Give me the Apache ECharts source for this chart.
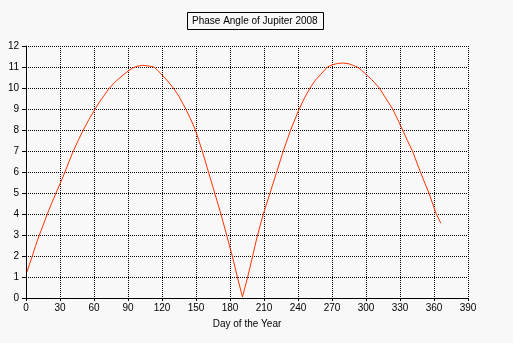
<!DOCTYPE html>
<html>
<head>
<meta charset="utf-8">
<style>
  html, body { margin: 0; padding: 0; background: #f8f8f8; }
  #chart { width: 513px; height: 343px; }
</style>
<script src="https://cdn.jsdelivr.net/npm/echarts@6/dist/echarts.min.js"></script>
</head>
<body>
<div id="chart"></div>
<script>
// Phase angle of Jupiter through 2008 (degrees), sampled by day of year
const days = [1, 3, 5.6, 8.5, 11.8, 15, 18.8, 22.5, 26.5, 30.5, 34.4, 38, 41.8, 46, 50.6, 55.5, 61, 65, 69, 73.5,
  78, 82, 86, 90, 94, 98, 103, 108, 113, 116, 120, 125, 130, 135, 141, 145, 149.5, 155.5, 161, 166.5,
  172, 177, 182, 186.5, 191, 195.6, 200, 204.3, 209.4, 215.3, 221.2, 227, 233.5, 241, 246, 250.6,
  255, 260, 266, 270, 275, 280, 285, 289, 292.3, 296, 300, 305, 311.8, 317, 323.5, 328, 332.3, 336.5, 341,
  348, 355.5, 362, 366];
const phase = [1.25, 1.6, 2, 2.5, 3, 3.45, 4, 4.5, 5, 5.5, 6, 6.5, 7, 7.5, 8, 8.5, 9, 9.35, 9.65, 10,
  10.25, 10.45, 10.63, 10.8, 10.95, 11.04, 11.08, 11.05, 11, 10.85, 10.62, 10.33, 10, 9.6, 9, 8.55, 8, 7, 6, 5,
  4, 3, 2, 1, 0.05, 1, 2, 3, 4, 5, 6, 7, 8, 9, 9.55, 10,
  10.35, 10.65, 11, 11.1, 11.17, 11.19, 11.15, 11.07, 11, 10.85, 10.65, 10.4, 10, 9.55, 9, 8.5, 8, 7.5, 7,
  6, 5, 4, 3.56];

const titleText = 'Phase Angle of Jupiter 2008';
const xAxisName = 'Day of the Year';
const xRange = [0, 390, 30];
const yRange = [0, 12, 1];

const font = '"Liberation Sans", Arial, sans-serif';

const chart = echarts.init(document.getElementById('chart'), null, { renderer: 'canvas' });

chart.setOption({
  backgroundColor: '#f8f8f8',
  animation: false,
  title: {
    text: titleText,
    left: 187,
    top: 12,
    borderColor: '#000',
    borderWidth: 1,
    padding: [4, 6, 3, 5],
    textStyle: { fontFamily: font, fontSize: 10, fontWeight: 'normal', color: '#000', lineHeight: 11 }
  },
  grid: { left: 26, right: 45, top: 46, bottom: 45 },
  xAxis: {
    type: 'value',
    min: xRange[0], max: xRange[1], interval: xRange[2],
    name: xAxisName,
    nameLocation: 'middle',
    nameGap: 21,
    nameTextStyle: { fontFamily: font, fontSize: 10, color: '#000' },
    axisLine: { show: true, onZero: false, lineStyle: { color: '#000', width: 1 } },
    axisTick: { show: true, length: 3, lineStyle: { color: '#000' } },
    axisLabel: { fontFamily: font, fontSize: 10, color: '#000', margin: 5 },
    splitLine: { show: true, lineStyle: { color: '#000', width: 1, type: [1, 1] } }
  },
  yAxis: {
    type: 'value',
    min: yRange[0], max: yRange[1], interval: yRange[2],
    axisLine: { show: true, onZero: false, lineStyle: { color: '#000', width: 1 } },
    axisTick: { show: true, length: 4, lineStyle: { color: '#000' } },
    axisLabel: { fontFamily: font, fontSize: 10, color: '#000', margin: 7 },
    splitLine: { show: true, lineStyle: { color: '#000', width: 1, type: [1, 1] } }
  },
  series: [{
    type: 'line',
    data: days.map((d, i) => [d, phase[i]]),
    showSymbol: false,
    smooth: false,
    lineStyle: { color: '#ff3300', width: 1 },
    z: 3
  }]
});
</script>
</body>
</html>
